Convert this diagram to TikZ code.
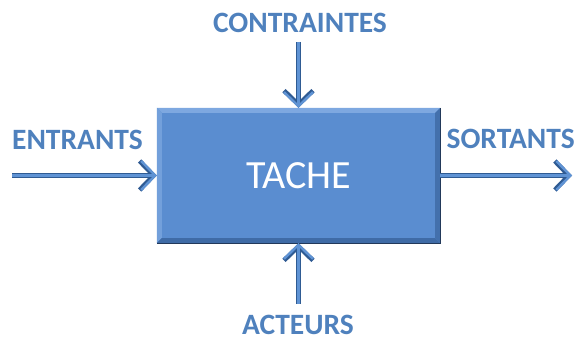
\documentclass[tikz,border=0pt]{standalone}
\usepackage{fontspec}
\setmainfont{Carlito}
\usetikzlibrary{arrows.meta,calc}
\definecolor{boxfill}{HTML}{5A8DD0}
\definecolor{boxlight}{HTML}{7EA8E0}
\definecolor{boxdark}{HTML}{3F6BA6}
\definecolor{boxedge}{HTML}{22395A}
\definecolor{labelblue}{HTML}{4F81BD}
\definecolor{arrowdark}{HTML}{2F5B93}
\definecolor{arrowlight}{HTML}{5F93D4}
\tikzset{
  flowlabel/.style={font=\bfseries\fontsize{29.5}{32}\selectfont, text=labelblue, inner sep=0pt},
  flowdark/.style={draw=arrowdark, line width=4.6pt,
    -{Straight Barb[length=14pt, width=29pt]}},
  flowlight/.style={draw=arrowlight, line width=2.4pt,
    -{Straight Barb[length=14pt, width=29pt]}},
}
\begin{document}
\begin{tikzpicture}[x=1pt,y=1pt]
\useasboundingbox (0,0) rectangle (576,340);
% central task box with bevelled edges
\node[fill=boxfill, minimum width=283pt, minimum height=135pt, inner sep=0pt] (task) at (298.5,164.5) {};
\fill[boxlight] (task.north west) -- (task.north east) -- ++(-5,-5) -- ($(task.north west)+(5,-5)$) -- cycle;
\fill[boxlight!70!boxfill] (task.north west) -- (task.south west) -- ++(5,5) -- ($(task.north west)+(5,-5)$) -- cycle;
\fill[boxdark] (task.south west) -- (task.south east) -- ++(-5,5) -- ($(task.south west)+(5,5)$) -- cycle;
\fill[boxdark!85!boxfill] (task.north east) -- (task.south east) -- ++(-5,5) -- ($(task.north east)+(-5,-5)$) -- cycle;
\draw[boxedge, line width=1.2pt] (task.north east) -- (task.south east) -- (task.south west);
\node[text=white, font=\fontsize{40}{44}\selectfont, inner sep=0pt] (tasklabel) at (task.center) {TACHE};
% labels
\node[flowlabel] (contraintes) at (300,317.5) {CONTRAINTES};
\node[flowlabel] (entrants) at (77.5,200) {ENTRANTS};
\node[flowlabel, anchor=east] (sortants) at (575,201.5) {SORTANTS};
\node[flowlabel] (acteurs) at (298,15.5) {ACTEURS};
% free ends of the flows
\coordinate (topend) at (298.5,298);
\coordinate (leftend) at (12,164.5);
\coordinate (rightend) at (572,164.5);
\coordinate (botend) at (298.5,36);
% flow arrows
\foreach \s in {flowdark, flowlight}{
  \draw[\s] (topend) -- (task.north);
  \draw[\s] (leftend) -- (task.west);
  \draw[\s] (botend) -- (task.south);
  \draw[\s] (task.east) -- (rightend);
}
\end{tikzpicture}
\end{document}
